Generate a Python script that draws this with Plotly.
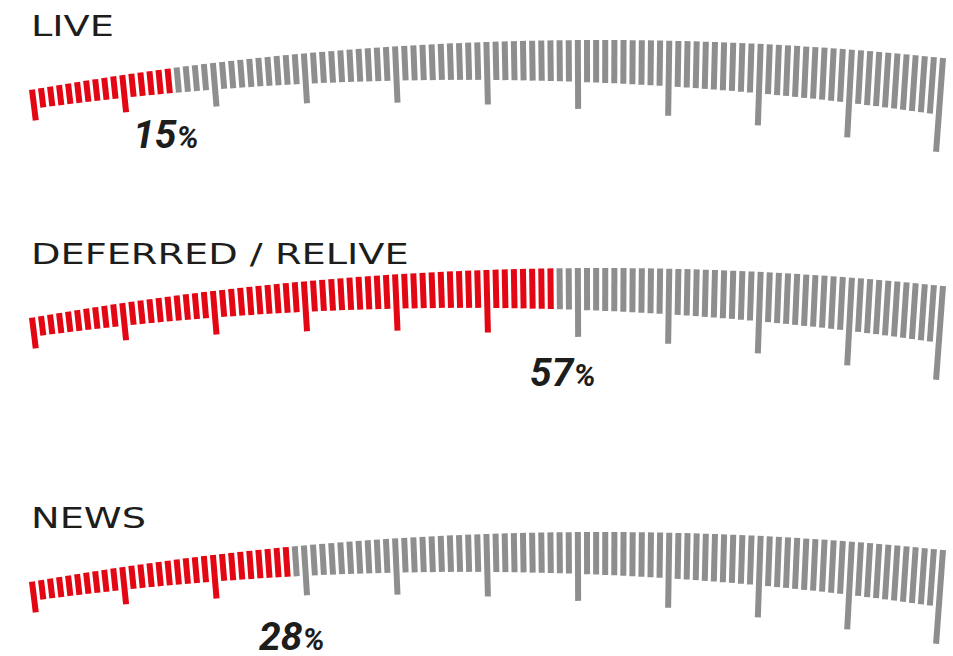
import math

import plotly.graph_objects as go

# ── data ────────────────────────────────────────────────────────────────
CATEGORIES = ["LIVE", "DEFERRED / RELIVE", "NEWS"]
VALUES = [15, 57, 28]
SCALE_MIN, SCALE_MAX = 0, 100
MAJOR_STEP = 10

# ── style / layout ──────────────────────────────────────────────────────
RED = "#E30613"
GRAY = "#8E8E8E"
INK = "#1D1D1B"

W, H = 953, 656
ROW_TOP = [0, 228, 492]        # vertical offset of each gauge block
R = 3270.0                     # radius of the outer arc (px)
CX = 600.0                     # x of the arc apex
APEX_Y = 40.0                  # y of the apex inside a block
X_START, X_END = 32.0, 943.0   # x of the 0 and 100 ticks
TILT = 0.7                     # how much the bars lean toward the centre
BAR_W = 6
LABEL_NUDGE = {0: (-2, 0), 1: (13, 10), 2: (6, 10)}   # (dx, dy) of % labels
TITLE_STRETCH = 1.32           # the title face is an extended sans

PHI0 = math.asin((X_START - CX) / R)
PHI1 = math.asin((X_END - CX) / R)


def angle(v):
    return PHI0 + (v - SCALE_MIN) / (SCALE_MAX - SCALE_MIN) * (PHI1 - PHI0)


def outer_point(v, top):
    a = angle(v)
    return CX + R * math.sin(a), top + APEX_Y + R * (1 - math.cos(a))


def bar_length(v, major):
    # bars grow along the scale, major ticks reach further inward
    return 31 + 0.63 * v if major else 19 + 0.38 * v


def gauge_traces(value, top):
    segs = {RED: ([], []), GRAY: ([], [])}
    for v in range(SCALE_MIN, SCALE_MAX + 1):
        x0, y0 = outer_point(v, top)
        a = angle(v) * TILT
        ln = bar_length(v, v % MAJOR_STEP == 0)
        x1, y1 = x0 - ln * math.sin(a), y0 + ln * math.cos(a)
        xs, ys = segs[RED if v <= value else GRAY]
        xs += [x0, x1, None]
        ys += [y0, y1, None]
    return [
        go.Scatter(x=xs, y=ys, mode="lines", hoverinfo="skip",
                   line=dict(color=c, width=BAR_W), showlegend=False)
        for c, (xs, ys) in segs.items()
    ]


fig = go.Figure()
annotations = []
for i, (name, value) in enumerate(zip(CATEGORIES, VALUES)):
    top = ROW_TOP[i]
    for tr in gauge_traces(value, top):
        fig.add_trace(tr)
    annotations.append(dict(
        x=29, y=top + 26, text=name, showarrow=False,
        xanchor="left", yanchor="middle", align="left",
        font=dict(family="DejaVu Sans", size=29, color=INK),
    ))
    vx, _ = outer_point(value, top)
    dx, dy = LABEL_NUDGE[i]
    annotations.append(dict(
        x=vx + dx, y=top + 135 + dy,
        text=f"{value}<span style='font-size:31px'>%</span>",
        showarrow=False, xanchor="center", yanchor="middle",
        font=dict(family="Liberation Sans Narrow, Roboto, sans-serif",
                  size=39, color=INK, weight=700, style="italic"),
    ))

fig.update_layout(
    width=W, height=H,
    margin=dict(l=0, r=0, t=0, b=0),
    paper_bgcolor="white", plot_bgcolor="white",
    xaxis=dict(range=[0, W], visible=False, fixedrange=True),
    yaxis=dict(range=[H, 0], visible=False, fixedrange=True),
    annotations=annotations,
)

# drop the page margin and widen the title glyphs
POST = """
document.body.style.margin = '0';
document.querySelectorAll('.annotation-text').forEach(function (t) {
  if (t.textContent.indexOf('%%') < 0) {
    var w = t.getComputedTextLength();
    t.setAttribute('textLength', (w * %s).toFixed(1));
    t.setAttribute('lengthAdjust', 'spacingAndGlyphs');
  }
});
""" % TITLE_STRETCH

fig.write_html("out.html", config={"displayModeBar": False}, post_script=POST)
